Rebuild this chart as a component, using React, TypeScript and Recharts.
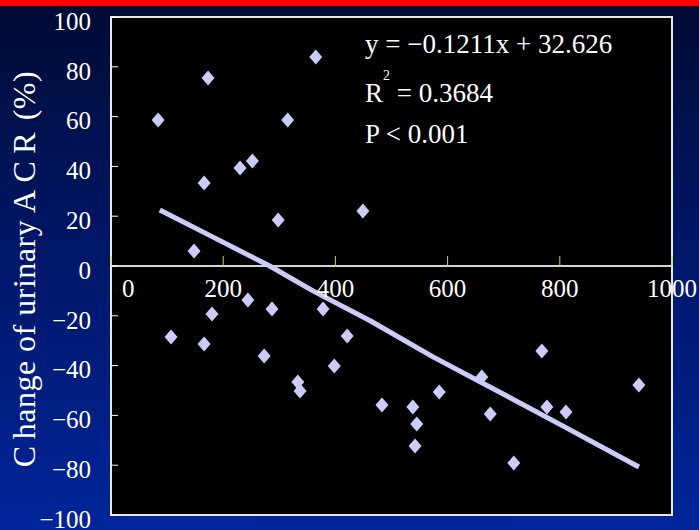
import { CartesianGrid, ComposedChart, Line, ReferenceArea, ReferenceDot, ReferenceLine, Scatter, XAxis, YAxis } from 'recharts';

// baseline ACR (x) vs change of urinary ACR in % (y)
const acrX = [84, 173, 166, 230, 252, 315, 365, 298, 148, 449, 107, 166, 180, 244, 287, 273, 333, 337, 378, 398, 421, 483, 538, 545, 542, 585, 661, 676, 768, 777, 811, 718, 941];
const acrY = [58.6, 75.5, 33.3, 39.4, 42.2, 58.6, 83.9, 18.5, 6.0, 22.1, -28.5, -31.3, -19.3, -13.7, -17.3, -36.1, -46.6, -50.2, -17.3, -40.2, -28.1, -55.8, -56.6, -63.5, -72.3, -50.6, -44.6, -59.4, -34.1, -56.6, -58.6, -79.1, -47.8];

// fitted line as drawn
const fitX = [87, 182, 283, 360, 462, 574, 699, 806, 941];
const fitY = [22.5, 11.6, 0, -10, -22, -36.5, -51.4, -64.3, -80.7];

const xTicks = [0, 200, 400, 600, 800, 1000];
const yTicks = [-100, -80, -60, -40, -20, 0, 20, 40, 60, 80, 100];

const SERIF = "'Liberation Serif', 'DejaVu Serif', serif";
const LAVENDER = '#ccccfa';

const points = acrX.map((x, i) => ({ x, y: acrY[i] }));
const fit = fitX.map((x, i) => ({ x, y: fitY[i] }));

const minus = (v: number) => String(v).replace('-', '\u2212');

function Diamond(props: any) {
  const { cx, cy } = props;
  if (cx == null || cy == null) return null;
  return <polygon points={`${cx},${cy - 7.5} ${cx + 6.5},${cy} ${cx},${cy + 7.5} ${cx - 6.5},${cy}`} fill={LAVENDER} />;
}

function YTick(props: any) {
  const { x, y, payload } = props;
  return (
    <g>
      <line x1={x} y1={y} x2={x + 7} y2={y} stroke="#ffffff" strokeWidth={1} />
      <text x={x - 20} y={y + 4} dy="0.35em" textAnchor="end" fill="#ffffff" fontFamily={SERIF} fontSize={25}>
        {minus(payload.value)}
      </text>
    </g>
  );
}

const xTickShape = (value: number) => (props: any) => {
  const { cx, cy } = props;
  return (
    <g>
      <line x1={cx} y1={cy} x2={cx} y2={cy - 10} stroke="#d8d800" strokeWidth={1} />
      <text x={value === 0 ? cx + 11 : cx} y={cy + 31} textAnchor={value === 0 ? 'start' : 'middle'} fill="#ffffff" fontFamily={SERIF} fontSize={25}>
        {value}
      </text>
    </g>
  );
};

export default function App() {
  return (
    <div
      style={{
        position: 'absolute',
        left: 0,
        top: 0,
        width: 699,
        height: 530,
        overflow: 'hidden',
        background: 'linear-gradient(180deg, #000b33 0%, #001560 40%, #00259a 100%)'
      }}
    >
      <div style={{ position: 'absolute', left: 0, top: 0 }}>
        <ComposedChart width={699} height={530} margin={{ top: 17, right: 27, bottom: 15, left: 0 }}>
          <CartesianGrid fill="#000000" horizontal={false} vertical={false} />
          <XAxis type="number" dataKey="x" domain={[0, 1000]} ticks={xTicks} hide allowDataOverflow />
          <YAxis
            type="number"
            domain={[-100, 100]}
            ticks={yTicks}
            width={111}
            axisLine={false}
            tickLine={false}
            tickSize={0}
            tickMargin={0}
            tick={YTick}
            interval={0}
            allowDataOverflow
          />
          <ReferenceLine y={0} stroke="#d4d4d4" strokeWidth={2} />
          {xTicks.map((v) => (
            <ReferenceDot key={v} x={v} y={0} r={0} ifOverflow="visible" shape={xTickShape(v)} />
          ))}
          <ReferenceArea x1={0} x2={1000} y1={-100} y2={100} fill="none" stroke="#e8e8e8" strokeWidth={2} ifOverflow="visible" />
          <Line data={fit} dataKey="y" type="linear" stroke={LAVENDER} strokeWidth={5} strokeLinejoin="round" dot={false} activeDot={false} isAnimationActive={false} />
          <Scatter data={points} dataKey="y" fill={LAVENDER} shape={Diamond} isAnimationActive={false} />
        </ComposedChart>
      </div>
      <svg width={699} height={530} style={{ position: 'absolute', left: 0, top: 0, pointerEvents: 'none' }}>
        <text transform="translate(35,269) rotate(-90)" textAnchor="middle" fill="#ffffff" fontFamily={SERIF} fontSize={32} letterSpacing={0.5}>
          <tspan>C</tspan>
          <tspan dx={6}>hange of urinary </tspan>
          <tspan>A</tspan>
          <tspan dx={7}>C</tspan>
          <tspan dx={7}>R</tspan>
          <tspan dx={3}> (%)</tspan>
        </text>
        <g fill="#ffffff" fontFamily={SERIF} fontSize={27}>
          <text x={365} y={53}>y = {'\u2212'}0.1211x + 32.626</text>
          <text x={365} y={102}>
            R<tspan fontSize={14} dy={-22}>2</tspan>
            <tspan dy={22}> = 0.3684</tspan>
          </text>
          <text x={365} y={143}>P {'<'} 0.001</text>
        </g>
      </svg>
      <div style={{ position: 'absolute', left: 0, top: 0, width: 699, height: 6, background: '#ff0000' }} />
    </div>
  );
}
